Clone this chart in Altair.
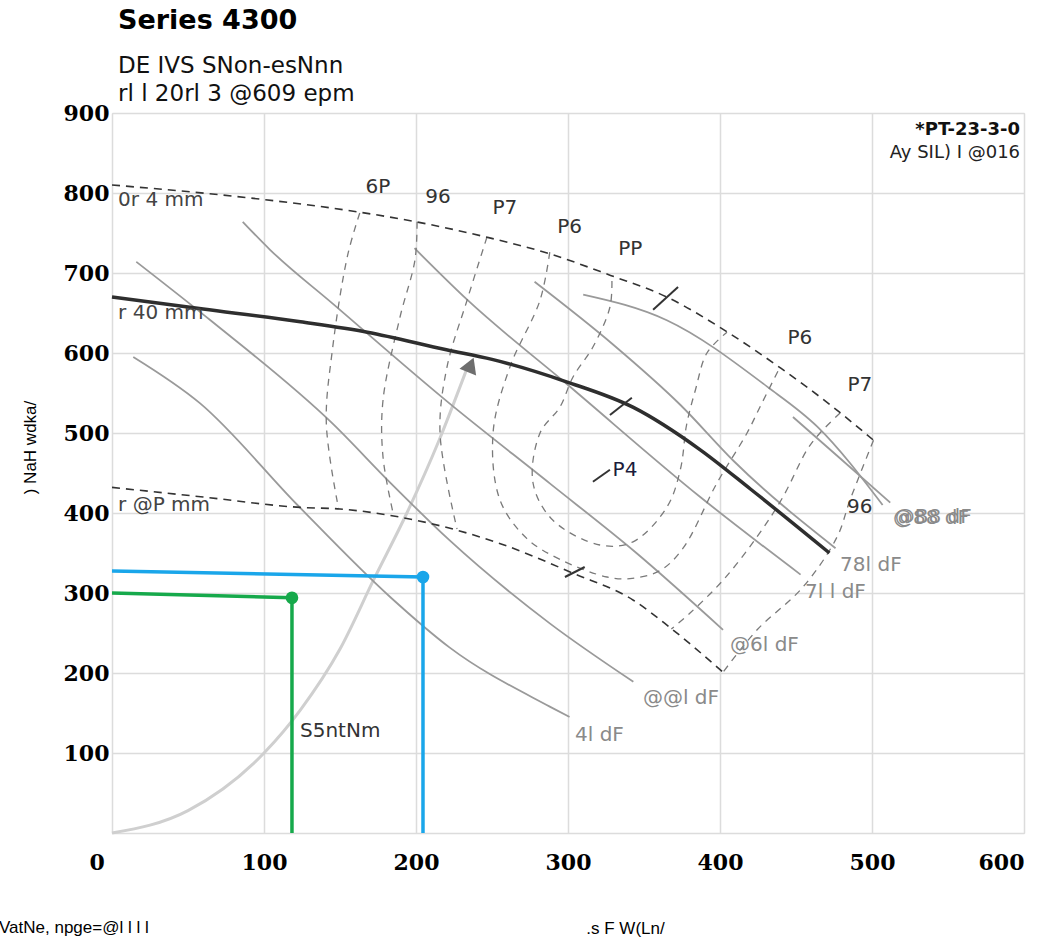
import altair as alt
import pandas as pd

# ---------------- data ----------------
# impeller curves (flow, head)
max_q = [0, 80, 163, 200, 246, 288, 328, 365, 405, 440, 474, 501]
max_h = [810, 796, 776, 764, 745, 724, 697, 670, 626, 581, 533, 491]
sel_q = [0, 60, 124, 168, 220, 250, 299, 343, 387, 420, 472]
sel_h = [670, 655, 639, 626, 604, 592, 564, 532, 479, 430, 350]
min_q = [0, 60, 124, 150, 189, 218, 255, 303, 343, 367, 402]
min_h = [432, 420, 407, 405, 395, 383, 362, 325, 291, 257, 201]

# power lines
p1_q = [14, 58, 122, 183, 222, 288, 301]
p1_h = [595, 537, 410, 295, 232, 158, 145]
p2_q = [16, 66, 145, 183, 222, 288, 343]
p2_h = [714, 639, 512, 438, 366, 262, 189]
p3_q = [86, 104, 145, 222, 288, 345, 402]
p3_h = [764, 729, 662, 537, 437, 350, 254]
p4_q = [199, 234, 300, 387, 453]
p4_h = [731, 666, 560, 420, 323]
p5_q = [278, 330, 374, 409, 476]
p5_h = [689, 610, 535, 465, 356]
p6_q = [310, 365, 431, 464, 507]
p6_h = [673, 641, 558, 508, 410]
p7_q = [448, 478, 512]
p7_h = [520, 470, 413]

# efficiency contours
eA_q = [163, 155, 145, 141, 149]
eA_h = [775, 722, 604, 512, 406]
eB1_q = [200.7, 199.3, 189.5, 178.3, 178.3, 184.9]
eB1_h = [764, 716, 645, 541, 470, 400]
eC1_q = [246.7, 233.6, 220.4, 215.8, 227]
eC1_h = [745, 666, 582.5, 500, 380]
eD_q = [288, 281.6, 261.8, 250.7, 255.3, 273, 294.7, 325.7, 340.8, 360.5, 375.7, 398, 417.8, 426.3, 439.5]
eD_h = [726, 666, 582.5, 500, 416, 368, 342, 320, 318, 328, 356, 437.5, 500, 532.5, 582.5]
eP_q = [328.9, 327.6, 316.4, 303.3, 294.7, 281.6, 277, 290.1, 321, 342.8, 365.1, 374, 378, 384, 391.4, 404.6]
eP_h = [690, 657.5, 607.5, 570, 532.5, 500, 437.5, 391, 360, 364, 407.5, 455, 510, 555, 600, 626]
eC2_q = [479, 465.8, 457.2, 441.4, 424.3, 402, 380.3, 368]
eC2_h = [525, 500, 478.75, 420, 370, 316, 275, 255]
eB2_q = [501, 485.5, 477, 454.6, 424.3, 402]
eB2_h = [491, 416, 370, 307.5, 253.75, 201]

# system curve
sys_q = [0, 50, 100, 124, 150, 172, 194, 215, 233]
sys_h = [0, 28, 100, 154, 230, 316, 400, 490, 578]
arrow_q = [236]
arrow_h = [585]

# small tick strokes on curves
tick_q = [356, 327.6, 298, 316.4]
tick_h = [654, 522.5, 320, 439]
tick_q2 = [372.4, 342, 311, 327.6]
tick_h2 = [682.5, 544, 332.5, 454]

# duty points
green_q = [0, 118.4, 118.4]
green_h = [300, 294, 0]
blue_q = [0, 204.6, 204.6]
blue_h = [327.5, 320, 0]
duty_q = [118.4, 204.6]
duty_h = [294, 320]
duty_c = ["#16a94b", "#1aa6ea"]

# labels
eff_text = ["6P", "96", "P7", "P6", "PP", "P6", "P7", "96"]
eff_q = [175, 214.5, 258.5, 301, 341, 452.6, 492, 492]
eff_h = [807.5, 795, 781, 757.5, 730, 619, 560, 407.5]
imp_text = ["0r 4 mm", "r 40 mm", "r @P mm"]
imp_q = [4, 4, 4]
imp_h = [791, 650, 410]
pow_text = ["4l dF", "@@l dF", "@6l dF", "7l l dF", "78l dF", "@88 dF", "@B8 dF"]
pow_q = [304.6, 349.3, 406.6, 456, 479, 513.8, 515]
pow_h = [122.5, 169, 235, 301, 335, 394, 395]

# ---------------- build ----------------
def df(name, q, h):
    return pd.DataFrame({"series": name, "q": q, "h": h, "idx": list(range(len(q)))})

xs = alt.Scale(domain=[0, 600], nice=False, zero=False)
ys = alt.Scale(domain=[0, 900], nice=False, zero=False)

X = alt.X("q:Q", scale=xs, axis=alt.Axis(
    values=list(range(0, 601, 100)), grid=True, gridColor="#dcdcdc", gridWidth=1.5,
    domain=False, ticks=False, labelFont="DejaVu Serif", labelFontWeight="bold",
    labelFontSize=22, labelColor="#000", labelPadding=19,
    labelOffset={"condition": {"test": "datum.value == 0", "value": -23}, "value": 0},
    title=".s F W(Ln/", titleFont="Liberation Sans", titleFontSize=17,
    titleFontWeight="normal", titleColor="#000", titleX=513, titleY=95,
    titleAlign="center", titleBaseline="middle"))
Y = alt.Y("h:Q", scale=ys, axis=alt.Axis(
    values=list(range(0, 901, 100)), grid=True, gridColor="#dcdcdc", gridWidth=1.5,
    domain=False, ticks=False, labelFont="DejaVu Serif", labelFontWeight="bold",
    labelFontSize=22, labelColor="#000", labelPadding=3,
    labelExpr="datum.value == 0 ? '' : datum.label",
    title=") NaH wdka/", titleFont="Liberation Sans", titleFontSize=17,
    titleFontWeight="normal", titleColor="#000", titleAngle=270, titleX=-82, titleY=334,
    titleAlign="center", titleBaseline="middle"))

def lines(data, interp="monotone", **mk):
    return alt.Chart(data).mark_line(interpolate=interp, **mk).encode(
        x=X, y=Y, detail="series:N", order="idx:Q")

system = lines(df("sys", sys_q, sys_h), color="#cfcfcf", strokeWidth=3)
arrow = alt.Chart(pd.DataFrame({"q": arrow_q, "h": arrow_h})).mark_point(
    shape="triangle-up", filled=True, color="#6e6e6e", size=320, angle=22, opacity=1
).encode(x=X, y=Y)

power = lines(pd.concat([df("p1", p1_q, p1_h), df("p2", p2_q, p2_h), df("p3", p3_q, p3_h),
                         df("p4", p4_q, p4_h), df("p5", p5_q, p5_h), df("p6", p6_q, p6_h),
                         df("p7", p7_q, p7_h)]), color="#9a9a9a", strokeWidth=1.8)
eff = lines(pd.concat([df("a", eA_q, eA_h), df("b1", eB1_q, eB1_h), df("c1", eC1_q, eC1_h),
                       df("d", eD_q, eD_h), df("p", eP_q, eP_h), df("c2", eC2_q, eC2_h),
                       df("b2", eB2_q, eB2_h)]), interp="catmull-rom", color="#7a7a7a",
            strokeWidth=1.3, strokeDash=[7, 6])
limits = lines(pd.concat([df("max", max_q, max_h), df("min", min_q, min_h)]),
               color="#333333", strokeWidth=1.6, strokeDash=[8, 6])
sel = lines(df("sel", sel_q, sel_h), color="#2e2e2e", strokeWidth=3.5)

ticks = alt.Chart(pd.DataFrame({"q": tick_q, "h": tick_h, "q2": tick_q2, "h2": tick_h2})
                  ).mark_rule(color="#333", strokeWidth=2).encode(
    x=X, y=Y, x2="q2:Q", y2="h2:Q")

duty_lines = alt.Chart(pd.concat([df("g", green_q, green_h).assign(c="#16a94b"),
                                  df("b", blue_q, blue_h).assign(c="#1aa6ea")])
                       ).mark_line(strokeWidth=3.5).encode(
    x=X, y=Y, detail="series:N", order="idx:Q", color=alt.Color("c:N", scale=None))
duty_pts = alt.Chart(pd.DataFrame({"q": duty_q, "h": duty_h, "c": duty_c})).mark_circle(
    size=160, opacity=1).encode(x=X, y=Y, color=alt.Color("c:N", scale=None))

txt_common = dict(font="DejaVu Sans", fontSize=20, baseline="middle")
eff_lbl = alt.Chart(pd.DataFrame({"q": eff_q, "h": eff_h, "t": eff_text})).mark_text(
    align="center", color="#333", **txt_common).encode(x=X, y=Y, text="t:N")
p4_lbl = alt.Chart(pd.DataFrame({"q": [337.5], "h": [454], "t": ["P4"]})).mark_text(
    align="center", color="#1c1c3c", **txt_common).encode(x=X, y=Y, text="t:N")
imp_lbl = alt.Chart(pd.DataFrame({"q": imp_q, "h": imp_h, "t": imp_text})).mark_text(
    align="left", color="#444", **txt_common).encode(x=X, y=Y, text="t:N")
pow_lbl = alt.Chart(pd.DataFrame({"q": pow_q, "h": pow_h, "t": pow_text})).mark_text(
    align="left", color="#8a8a8a", **txt_common).encode(x=X, y=Y, text="t:N")
sys_lbl = alt.Chart(pd.DataFrame({"q": [123.7], "h": [127.5], "t": ["S5ntNm"]})).mark_text(
    align="left", color="#333", **txt_common).encode(x=X, y=Y, text="t:N")
code_lbl = alt.Chart(pd.DataFrame({"q": [597.4], "h": [879], "t": ["*PT-23-3-0"]})).mark_text(
    align="right", color="#111", font="DejaVu Sans", fontSize=18, fontWeight="bold",
    baseline="middle").encode(x=X, y=Y, text="t:N")
code2_lbl = alt.Chart(pd.DataFrame({"q": [597.4], "h": [850], "t": ["Ay SIL) I @016"]})).mark_text(
    align="right", color="#222", font="DejaVu Sans", fontSize=18,
    baseline="middle").encode(x=X, y=Y, text="t:N")
footer = alt.Chart(pd.DataFrame({"t": ["VatNe, npge=@l l l l"]})).mark_text(
    align="left", baseline="middle", font="Liberation Sans", fontSize=17,
    color="#000").encode(x=alt.value(-113), y=alt.value(815), text="t:N")

chart = alt.layer(
    system, power, eff, limits, sel, arrow, ticks, duty_lines, duty_pts,
    eff_lbl, p4_lbl, imp_lbl, pow_lbl, sys_lbl, code_lbl, code2_lbl, footer
).properties(
    width=912, height=720,
    autosize=alt.AutoSizeParams(type="none"),
    padding={"left": 112, "top": 113, "right": 33, "bottom": 111},
    title=alt.TitleParams(
        text="Series 4300",
        subtitle=["DE IVS SNon-esNnn", "rl l 20rl 3 @609 epm"],
        anchor="start", frame="group", font="DejaVu Sans", fontSize=27,
        fontWeight="bold", color="#000", subtitleFont="DejaVu Sans",
        subtitleFontSize=23, subtitleColor="#111", subtitlePadding=20,
        subtitleLineHeight=28, offset=8, dx=6, dy=13),
).configure_view(stroke="transparent").configure(background="white")

chart.save("out.html", embed_options={"renderer": "svg", "actions": False})
